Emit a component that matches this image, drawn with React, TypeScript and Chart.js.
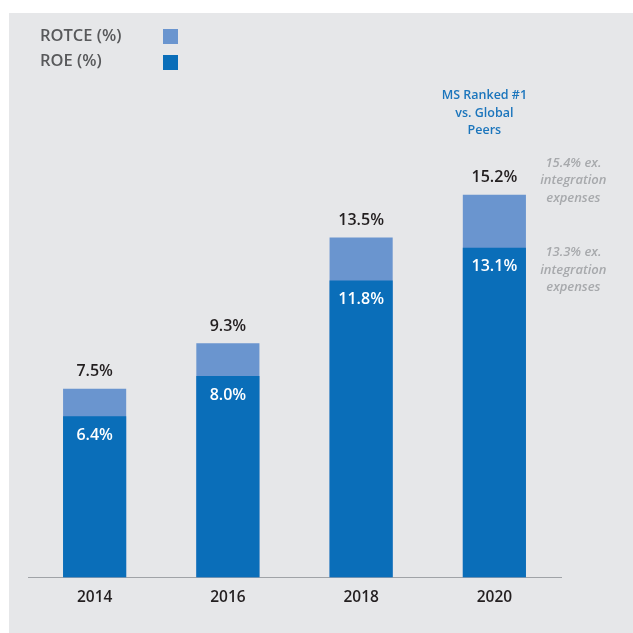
import React, { useEffect, useRef } from "react";
import { Chart, registerables } from "chart.js";

Chart.register(...registerables);

const years = ["2014", "2016", "2018", "2020"];
const roe = [6.4, 8.0, 11.8, 13.1];
const rotce = [7.5, 9.3, 13.5, 15.2];
const legendLabels = ["ROTCE (%)", "ROE (%)"];
const rankNote = ["MS Ranked #1", "vs. Global", "Peers"];
const rotceNote = ["15.4% ex.", "integration", "expenses"];
const roeNote = ["13.3% ex.", "integration", "expenses"];

const ROTCE_COLOR = "#6a95cf";
const ROE_COLOR = "#0a6eb9";
const BG = "#e6e7e9";
const FONT = "'Open Sans', 'Noto Sans', sans-serif";

export default function App() {
  const ref = useRef<HTMLCanvasElement>(null);
  useEffect(() => {
    const canvas = ref.current!;
    const deco = {
      id: "deco",
      beforeDraw(chart: any) {
        const ctx = chart.ctx;
        ctx.save();
        ctx.fillStyle = BG;
        ctx.fillRect(9, 13, 624, 620);
        // legend
        ctx.font = `600 16.5px ${FONT}`;
        ctx.fillStyle = "#58595b";
        ctx.textBaseline = "middle";
        ctx.textAlign = "left";
        ctx.fillText(legendLabels[0], 40, 36);
        ctx.fillText(legendLabels[1], 40, 61);
        ctx.fillStyle = ROTCE_COLOR;
        ctx.fillRect(163, 29, 15, 15);
        ctx.fillStyle = ROE_COLOR;
        ctx.fillRect(163, 55, 15, 15);
        ctx.restore();
      },
      afterDatasetsDraw(chart: any) {
        const ctx = chart.ctx;
        const roeMeta = chart.getDatasetMeta(0);
        const rotceMeta = chart.getDatasetMeta(1);
        ctx.save();
        ctx.textAlign = "center";
        ctx.textBaseline = "middle";
        ctx.font = `600 16px ${FONT}`;
        for (let i = 0; i < years.length; i++) {
          const top = rotceMeta.data[i];
          ctx.fillStyle = "#231f20";
          ctx.fillText(rotce[i].toFixed(1) + "%", top.x, top.y - 17);
          const bot = roeMeta.data[i];
          ctx.fillStyle = "#ffffff";
          ctx.fillText(roe[i].toFixed(1) + "%", bot.x, bot.y + 19);
        }
        const last = years.length - 1;
        const tx = rotceMeta.data[last].x;
        const ty = rotceMeta.data[last].y;
        const ry = roeMeta.data[last].y;
        ctx.font = `600 12.5px ${FONT}`;
        ctx.fillStyle = "#1b75bc";
        rankNote.forEach((s, k) => ctx.fillText(s, tx - 10, ty - 99 + k * 17.5));
        ctx.font = `italic 600 13px ${FONT}`;
        ctx.fillStyle = "#a7a9ac";
        const nx = tx + 79;
        rotceNote.forEach((s, k) => ctx.fillText(s, nx, ty - 32 + k * 17.5));
        roeNote.forEach((s, k) => ctx.fillText(s, nx, ry + 5 + k * 17.5));
        ctx.restore();
      },
    };
    const chart = new Chart(canvas, {
      type: "bar",
      data: {
        labels: years,
        datasets: [
          { label: "ROE (%)", data: roe, backgroundColor: ROE_COLOR, borderWidth: 0 },
          { label: "ROTCE (%)", data: rotce, backgroundColor: ROTCE_COLOR, borderWidth: 0 },
        ],
      },
      options: {
        responsive: false,
        animation: false,
        events: [],
        layout: { padding: { left: 28, right: 72, top: 74, bottom: 15 } },
        datasets: { bar: { barPercentage: 1, categoryPercentage: 63 / 133 } },
        plugins: { legend: { display: false }, tooltip: { enabled: false } },
        scales: {
          x: {
            stacked: true,
            grid: { display: false, drawTicks: false },
            border: { display: true, color: "#a0a3a7", width: 1 },
            ticks: { padding: 11, color: "#231f20", font: { family: FONT, size: 15.5, weight: 600 } },
          },
          y: { stacked: false, display: false, min: 0, max: 20 },
        },
      },
      plugins: [deco],
    } as any);
    return () => chart.destroy();
  }, []);
  return (
    <div style={{ position: "fixed", left: 0, top: 0, width: 633, height: 633 }}>
      <canvas ref={ref} width={633} height={633} />
    </div>
  );
}
